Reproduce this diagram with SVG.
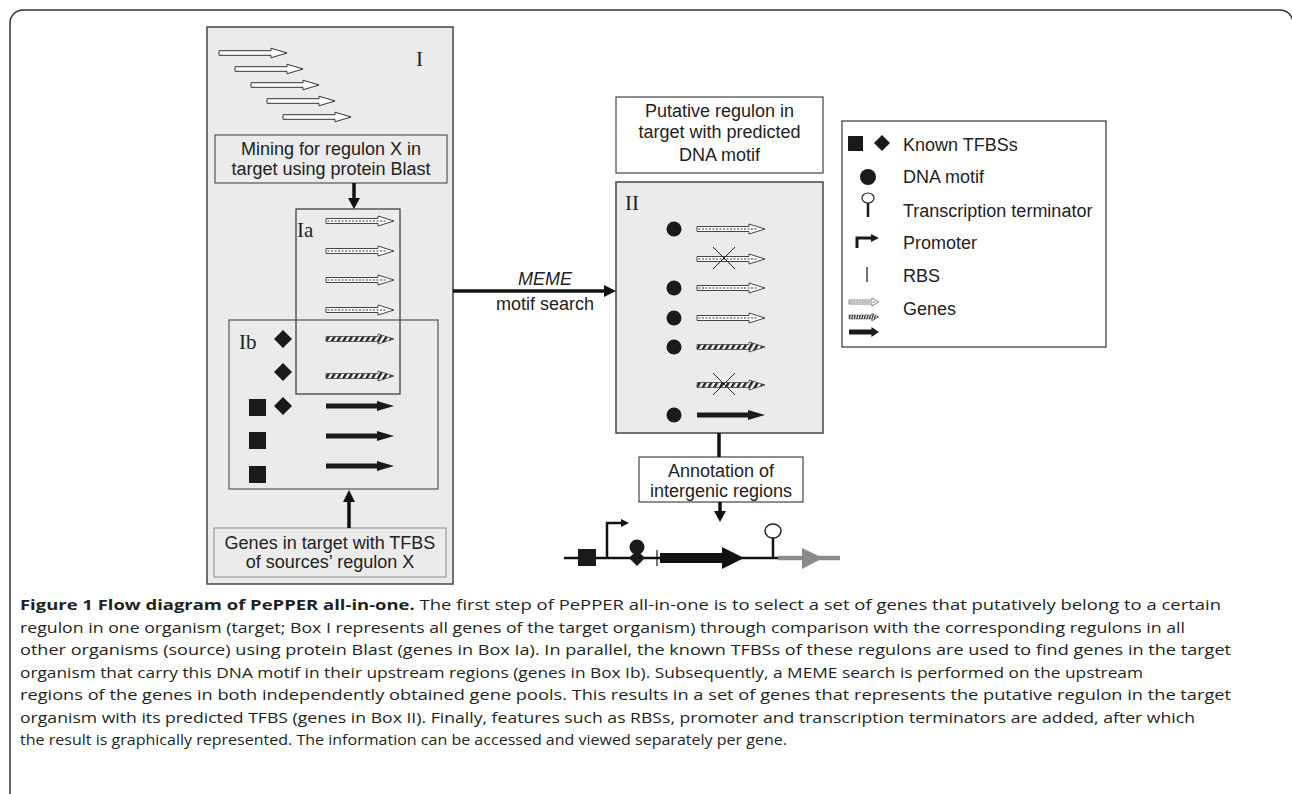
<svg xmlns="http://www.w3.org/2000/svg" width="1292" height="794" viewBox="0 0 1292 794">
<style>
.sans{font-family:"Liberation Sans",Arial,sans-serif;font-size:18px;fill:#222}
.serif{font-family:"Liberation Serif","Times New Roman",serif;font-size:21px;fill:#222}
.cap{font-family:"Open Sans","Noto Sans",sans-serif;font-size:15px;fill:#231f20}
.box{stroke:#444;stroke-width:1.5}
.conn{stroke:#111;stroke-width:3.5;fill:none}
.head{fill:#111}
</style>
<defs>
<pattern id="hatch" width="5" height="5" patternUnits="userSpaceOnUse" patternTransform="rotate(30)">
<rect width="5" height="5" fill="#fff"/>
<rect width="2.5" height="5" fill="#222"/>
</pattern>
<g id="gOpen"><path d="M0,-2.3 H52 V-4.8 L68,0 L52,4.8 V2.3 H0 Z" fill="#fff" stroke="#333" stroke-width="1"/></g>
<g id="gStip"><path d="M0,-2.5 H52 V-5 L68,0 L52,5 V2.5 H0 Z" fill="#fff" stroke="#444" stroke-width="1"/><path d="M1.5,0 H60" stroke="#777" stroke-width="1.6" stroke-dasharray="2 1.5"/></g>
<g id="gHatch"><path d="M0,-2.5 H52 V-5 L68,0 L52,5 V2.5 H0 Z" fill="url(#hatch)" stroke="#444" stroke-width="0.8"/></g>
<g id="gBlack"><path d="M0,-2.5 H51 V-5 L68,0 L51,5 V2.5 H0 Z" fill="#1a1a1a"/></g>
</defs>
<rect x="10" y="10" width="1283" height="800" rx="13" fill="none" stroke="#333" stroke-width="1.5"/>

<g id="boxI">
<rect x="207" y="27" width="246" height="557" fill="#ebebeb" class="box"/>
<text class="serif" x="416" y="66">I</text>
<use href="#gOpen" x="219" y="53"/>
<use href="#gOpen" x="235" y="69"/>
<use href="#gOpen" x="251" y="85"/>
<use href="#gOpen" x="267" y="101"/>
<use href="#gOpen" x="283" y="117"/>
</g>

<g id="mining">
<rect x="215" y="135" width="232" height="48" fill="#ebebeb" stroke="#555" stroke-width="1.2"/>
<text class="sans" x="331" y="155" text-anchor="middle">Mining for regulon X in</text>
<text class="sans" x="331" y="175" text-anchor="middle">target using protein Blast</text>
</g>

<g id="boxIa">
<rect x="296" y="209" width="104" height="185" fill="none" stroke="#333" stroke-width="1.2"/>
<text class="serif" x="297" y="237">Ia</text>
<use href="#gStip" x="326" y="221"/>
<use href="#gStip" x="326" y="251"/>
<use href="#gStip" x="326" y="280"/>
<use href="#gStip" x="326" y="310"/>
<use href="#gHatch" x="326" y="339"/>
<use href="#gHatch" x="326" y="376"/>
</g>

<g id="boxIb">
<rect x="229" y="320" width="209" height="169" fill="none" stroke="#555" stroke-width="1.2"/>
<text class="serif" x="239" y="349">Ib</text>
<polygon points="283,330 292,339 283,348 274,339" fill="#1a1a1a"/>
<polygon points="283,363 292,372 283,381 274,372" fill="#1a1a1a"/>
<polygon points="283,397 292,406 283,415 274,406" fill="#1a1a1a"/>
<rect x="249" y="399" width="17" height="17" fill="#1a1a1a"/>
<rect x="249" y="432" width="17" height="17" fill="#1a1a1a"/>
<rect x="249" y="466" width="17" height="17" fill="#1a1a1a"/>
<use href="#gBlack" x="326" y="406"/>
<use href="#gBlack" x="326" y="436"/>
<use href="#gBlack" x="326" y="466"/>
</g>

<g id="genesTFBS">
<rect x="214" y="528" width="232" height="49" fill="#ebebeb" stroke="#999" stroke-width="1.2"/>
<text class="sans" x="330" y="549" text-anchor="middle">Genes in target with TFBS</text>
<text class="sans" x="330" y="568" text-anchor="middle">of sources’ regulon X</text>
</g>

<g id="putative">
<rect x="616" y="97" width="207" height="76" fill="#fff" stroke="#444" stroke-width="1.2"/>
<text class="sans" x="719.5" y="117" text-anchor="middle">Putative regulon in</text>
<text class="sans" x="719.5" y="138" text-anchor="middle">target with predicted</text>
<text class="sans" x="719.5" y="161" text-anchor="middle">DNA motif</text>
</g>

<g id="boxII">
<rect x="616" y="182" width="207" height="251" fill="#ebebeb" class="box"/>
<text class="serif" x="625" y="210">II</text>
<circle cx="674" cy="229" r="7.5" fill="#1a1a1a"/>
<circle cx="674" cy="288" r="7.5" fill="#1a1a1a"/>
<circle cx="674" cy="318" r="7.5" fill="#1a1a1a"/>
<circle cx="674" cy="347" r="7.5" fill="#1a1a1a"/>
<circle cx="674" cy="415" r="7.5" fill="#1a1a1a"/>
<use href="#gStip" x="697" y="229"/>
<use href="#gStip" x="697" y="259"/>
<use href="#gStip" x="697" y="288"/>
<use href="#gStip" x="697" y="318"/>
<use href="#gHatch" x="697" y="347"/>
<use href="#gHatch" x="697" y="385"/>
<use href="#gBlack" x="697" y="415"/>
<path d="M713,247 L735,269 M735,247 L713,269" stroke="#222" stroke-width="1"/>
<path d="M713,373 L735,395 M735,373 L713,395" stroke="#222" stroke-width="1"/>
</g>

<g id="annotation">
<rect x="639" y="457" width="164" height="45" fill="#fff" stroke="#444" stroke-width="1.2"/>
<text class="sans" x="721" y="477" text-anchor="middle">Annotation of</text>
<text class="sans" x="721" y="497" text-anchor="middle">intergenic regions</text>
</g>

<g id="geneDiagram">
<path d="M564,558 H778" stroke="#111" stroke-width="2.5"/>
<path d="M778,558 H840" stroke="#8a8a8a" stroke-width="4.5"/>
<polygon points="802,548 823,558 802,569" fill="#8a8a8a"/>
<rect x="578" y="549" width="18" height="17" fill="#1a1a1a"/>
<path d="M607,558 V523 H622" stroke="#111" stroke-width="2.5" fill="none"/>
<polygon points="621,519 629,523 621,527" fill="#111"/>
<polygon points="637,550 645,558 637,566 629,558" fill="#1a1a1a"/>
<circle cx="637" cy="547" r="7.5" fill="#1a1a1a"/>
<path d="M657,550 V566" stroke="#111" stroke-width="1.2"/>
<path d="M660,553 H722 V547 L744,558 L722,569 V563 H660 Z" fill="#111"/>
<path d="M773,558 V538" stroke="#111" stroke-width="2.5"/>
<ellipse cx="773" cy="531" rx="8" ry="7" fill="#fff" stroke="#222" stroke-width="1.5"/>
</g>

<g id="legend">
<rect x="842" y="121" width="264" height="226" fill="#fff" stroke="#333" stroke-width="1.2"/>
<rect x="848" y="136" width="15" height="15" fill="#1a1a1a"/>
<polygon points="882,135 890,143 882,151 874,143" fill="#1a1a1a"/>
<text class="sans" x="903" y="151">Known TFBSs</text>
<circle cx="868" cy="177" r="8" fill="#1a1a1a"/>
<text class="sans" x="903" y="183">DNA motif</text>
<path d="M868,203 V217" stroke="#1a1a1a" stroke-width="2.5"/>
<ellipse cx="868" cy="198" rx="6" ry="5" fill="#fff" stroke="#222" stroke-width="1.2"/>
<text class="sans" x="903" y="217">Transcription terminator</text>
<path d="M857,248 V238 H872" stroke="#1a1a1a" stroke-width="3" fill="none"/>
<polygon points="871,234 879,238 871,242" fill="#1a1a1a"/>
<text class="sans" x="903" y="249">Promoter</text>
<path d="M867,267 V282" stroke="#222" stroke-width="1.3"/>
<text class="sans" x="903" y="282">RBS</text>
<use href="#gStip" transform="translate(849,302) scale(0.44,0.8)"/>
<use href="#gHatch" transform="translate(849,317) scale(0.44,0.8)"/>
<use href="#gBlack" transform="translate(849,332) scale(0.44,1)"/>
<text class="sans" x="903" y="315">Genes</text>
</g>

<g id="connectors">
<path class="conn" d="M354,183 V200"/>
<polygon class="head" points="348,198 360,198 354,209"/>
<path class="conn" d="M349,528 V500"/>
<polygon class="head" points="343,502 355,502 349,490"/>
<path class="conn" d="M453,291 H606"/>
<polygon class="head" points="604,285 616,291 604,297"/>
<path class="conn" d="M719,433 V457"/>
<path class="conn" d="M720,502 V513"/>
<polygon class="head" points="714,511 726,511 720,522"/>
<text class="sans" x="545" y="285" text-anchor="middle" font-style="italic">MEME</text>
<text class="sans" x="545" y="310" text-anchor="middle">motif search</text>
</g>

<g id="caption">
<text class="cap" x="20" y="610" textLength="1201" lengthAdjust="spacingAndGlyphs"><tspan font-weight="bold">Figure 1 Flow diagram of PePPER all-in-one.</tspan> The first step of PePPER all-in-one is to select a set of genes that putatively belong to a certain</text>
<text class="cap" x="20" y="633" textLength="1165" lengthAdjust="spacingAndGlyphs">regulon in one organism (target; Box I represents all genes of the target organism) through comparison with the corresponding regulons in all</text>
<text class="cap" x="20" y="655" textLength="1211" lengthAdjust="spacingAndGlyphs">other organisms (source) using protein Blast (genes in Box Ia). In parallel, the known TFBSs of these regulons are used to find genes in the target</text>
<text class="cap" x="20" y="678" textLength="1123" lengthAdjust="spacingAndGlyphs">organism that carry this DNA motif in their upstream regions (genes in Box Ib). Subsequently, a MEME search is performed on the upstream</text>
<text class="cap" x="20" y="700" textLength="1211" lengthAdjust="spacingAndGlyphs">regions of the genes in both independently obtained gene pools. This results in a set of genes that represents the putative regulon in the target</text>
<text class="cap" x="20" y="723" textLength="1175" lengthAdjust="spacingAndGlyphs">organism with its predicted TFBS (genes in Box II). Finally, features such as RBSs, promoter and transcription terminators are added, after which</text>
<text class="cap" x="20" y="745" textLength="767" lengthAdjust="spacingAndGlyphs">the result is graphically represented. The information can be accessed and viewed separately per gene.</text>
</g>
</svg>
